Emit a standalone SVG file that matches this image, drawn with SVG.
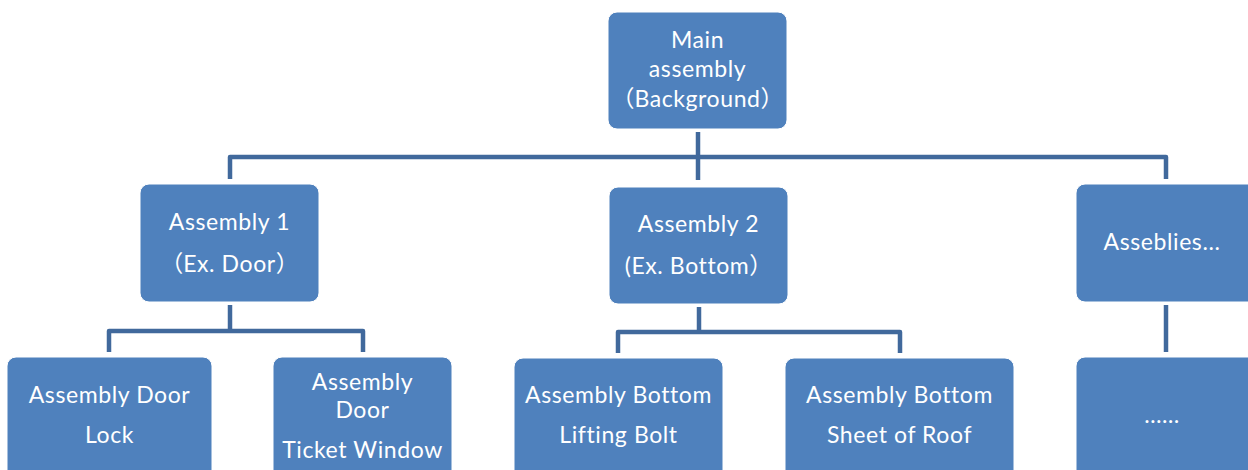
<svg xmlns="http://www.w3.org/2000/svg" width="1248" height="470" viewBox="0 0 1248 470">
<style>
.box{fill:#4F81BD;stroke:#FFFFFF;stroke-width:1}
.t{font-family:"Lato","Noto Sans CJK SC",sans-serif;font-size:23px;letter-spacing:0.6px;fill:#FFFFFF;text-anchor:middle}
.p{font-family:"Noto Sans CJK SC",sans-serif;letter-spacing:0}
.c{fill:none;stroke:#41699C;stroke-width:4.5;stroke-linejoin:round}
</style>
<rect width="1248" height="470" fill="#FFFFFF"/>
<g id="connectors">
<path class="c" d="M698,132 V180"/>
<path class="c" d="M230,179 V157 H1166 V179"/>
<path class="c" d="M230,305 V331"/>
<path class="c" d="M109,352 V331 H363 V352"/>
<path class="c" d="M699,307 V332"/>
<path class="c" d="M618,353 V332 H900 V353"/>
<path class="c" d="M1166,305 V352"/>
</g>
<g id="main">
<rect class="box" x="608" y="12" width="179" height="117" rx="9"/>
<text class="t" x="697.5" y="48">Main</text>
<text class="t" x="697.5" y="77">assembly</text>
<text class="t" x="697.5" y="107"><tspan class="p">（</tspan>Background<tspan class="p">）</tspan></text>
</g>
<g id="assembly1">
<rect class="box" x="140" y="184" width="179" height="118" rx="9"/>
<text class="t" x="229.5" y="230">Assembly 1</text>
<text class="t" x="229.5" y="272"><tspan class="p">（</tspan>Ex. Door<tspan class="p">）</tspan></text>
</g>
<g id="assembly2">
<rect class="box" x="609" y="187" width="179" height="117" rx="9"/>
<text class="t" x="698.5" y="232">Assembly 2</text>
<text class="t" x="698.5" y="274">(Ex. Bottom<tspan class="p">）</tspan></text>
</g>
<g id="assemblies">
<rect class="box" x="1076" y="184" width="190" height="118" rx="9"/>
<text class="t" x="1162" y="250">Asseblies...</text>
</g>
<g id="door-lock">
<rect class="box" x="7" y="357" width="205" height="130" rx="9"/>
<text class="t" x="109.5" y="403">Assembly Door</text>
<text class="t" x="109.5" y="443">Lock</text>
</g>
<g id="door-ticket">
<rect class="box" x="273" y="357" width="179" height="130" rx="9"/>
<text class="t" x="362.5" y="390">Assembly</text>
<text class="t" x="362.5" y="418">Door</text>
<text class="t" x="362.5" y="458">Ticket Window</text>
</g>
<g id="bottom-bolt">
<rect class="box" x="514" y="358" width="209" height="130" rx="9"/>
<text class="t" x="618.5" y="403">Assembly Bottom</text>
<text class="t" x="618.5" y="443">Lifting Bolt</text>
</g>
<g id="bottom-roof">
<rect class="box" x="785" y="358" width="229" height="130" rx="9"/>
<text class="t" x="899.5" y="403">Assembly Bottom</text>
<text class="t" x="899.5" y="443">Sheet of Roof</text>
</g>
<g id="more">
<rect class="box" x="1076" y="357" width="190" height="130" rx="9"/>
<text class="t" x="1162" y="423">……</text>
</g>
</svg>
